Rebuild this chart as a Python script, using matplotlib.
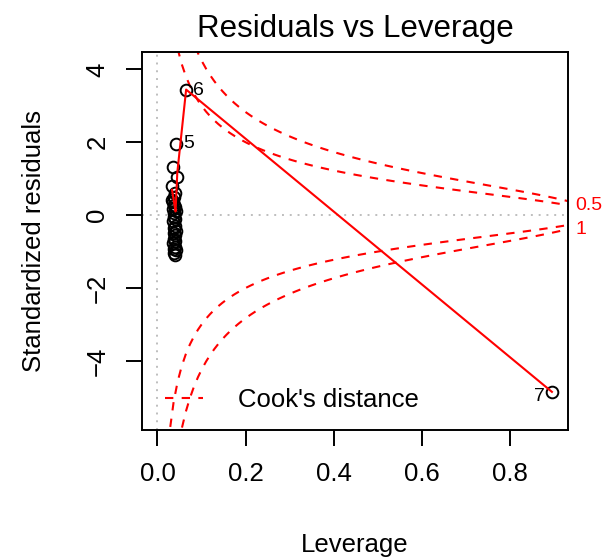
import numpy as np
import matplotlib
matplotlib.use("Agg")
import matplotlib.pyplot as plt

# Diagnostic values for each observation (index 1..n)
leverage = [0.036, 0.038, 0.034, 0.040, 0.042, 0.065, 0.895, 0.045, 0.033, 0.035,
            0.037, 0.039, 0.036, 0.041, 0.038, 0.037, 0.040, 0.036, 0.039, 0.038,
            0.041, 0.037, 0.039, 0.038, 0.040, 0.036, 0.039, 0.038, 0.041, 0.037,
            0.039]
std_resid = [1.32, 0.50, 0.80, 0.62, 1.96, 3.43, -4.85, 1.05, 0.42, 0.36,
             0.28, 0.23, 0.17, 0.10, 0.06, -0.05, -0.10, -0.16, -0.29, -0.36,
             -0.43, -0.50, -0.54, -0.65, -0.70, -0.76, -0.87, -0.92, -0.95, -1.03,
             -1.10]
obs_id = list(range(1, len(leverage) + 1))
flagged = [5, 6, 7]
n_coef = 2
cook_levels = [0.5, 1]
x_ticks = [0.0, 0.2, 0.4, 0.6, 0.8]
y_ticks = [-4, -2, 0, 2, 4]


def lowess(x, y, f=2 / 3, iters=3):
    """Port of the classic clowess smoother (Cleveland 1979)."""
    order = np.argsort(x, kind="mergesort")
    x = np.asarray(x, float)[order]
    y = np.asarray(y, float)[order]
    n = len(x)
    delta = 0.01 * (x[-1] - x[0])
    ns = max(2, min(n, int(f * n + 1e-7)))
    ys = np.zeros(n)
    rw = np.ones(n)
    xrange_ = x[-1] - x[0]

    def lowest(xs, nleft, nright, userw):
        h = max(xs - x[nleft], x[nright] - xs)
        h9, h1 = 0.999 * h, 0.001 * h
        w = np.zeros(n)
        a = 0.0
        j = nleft
        while j < n:
            r = abs(x[j] - xs)
            if r <= h9:
                w[j] = 1.0 if r <= h1 else (1 - (r / h) ** 3) ** 3
                if userw:
                    w[j] *= rw[j]
                a += w[j]
            elif x[j] > xs:
                break
            j += 1
        nrt = j - 1
        if a <= 0:
            return None
        sl = slice(nleft, nrt + 1)
        w[sl] /= a
        if h > 0:
            am = np.sum(w[sl] * x[sl])
            b = xs - am
            c = np.sum(w[sl] * (x[sl] - am) ** 2)
            if np.sqrt(c) > 0.001 * xrange_:
                b /= c
                w[sl] *= b * (x[sl] - am) + 1
        return np.sum(w[sl] * y[sl])

    it = 1
    while it <= iters + 1:
        nleft, nright = 0, ns - 1
        last = -1
        i = 0
        while True:
            if nright < n - 1:
                d1 = x[i] - x[nleft]
                d2 = x[nright + 1] - x[i]
                if d1 > d2:
                    nleft += 1
                    nright += 1
                    continue
            val = lowest(x[i], nleft, nright, it > 1)
            ys[i] = y[i] if val is None else val
            if last < i - 1:
                denom = x[i] - x[last]
                for j in range(last + 1, i):
                    alpha = (x[j] - x[last]) / denom
                    ys[j] = alpha * ys[i] + (1 - alpha) * ys[last]
            last = i
            cut = x[last] + delta
            i = last + 1
            while i < n:
                if x[i] > cut:
                    break
                if x[i] == x[last]:
                    ys[i] = ys[last]
                    last = i
                i += 1
            i = max(last + 1, i - 1)
            if last >= n - 1:
                break
        res = y - ys
        sc = np.sum(np.abs(res)) / n
        if it > iters:
            break
        ar = np.sort(np.abs(res))
        m1 = n // 2
        if n % 2 == 0:
            cmad = 3 * (ar[m1] + ar[n - m1 - 1])
        else:
            cmad = 6 * ar[m1]
        if cmad < 1e-7 * sc:
            break
        c9, c1 = 0.999 * cmad, 0.001 * cmad
        r = np.abs(res)
        rw = np.where(r <= c1, 1.0, np.where(r <= c9, (1 - (r / cmad) ** 2) ** 2, 0.0))
        it += 1
    return x, ys


plt.rcParams["font.family"] = ["Liberation Sans", "DejaVu Sans"]
plt.rcParams["axes.unicode_minus"] = True

W, H = 610, 559
fig = plt.figure(figsize=(W / 100, H / 100), dpi=100)
ax = fig.add_axes([141.7 / W, 1 - 430 / H, (567.7 - 141.7) / W, (430 - 52) / H])

lev = np.array(leverage)
rs = np.array(std_resid)

# axis limits as in base graphics: extended y range, then 4% padding
xmax = lev.max()
ax.set_xlim(-0.04 * xmax, 1.04 * xmax)
ylo, yhi = rs.min(), rs.max()
ylo, yhi = ylo - 0.08 * (yhi - ylo), yhi + 0.08 * (yhi - ylo)
pad = 0.04 * (yhi - ylo)
ax.set_ylim(ylo - pad, yhi + pad)

grey = "#BEBEBE"
ax.axhline(0, color=grey, lw=1.4, ls=(0, (1, 3)), zorder=1)
ax.axvline(0, color=grey, lw=1.4, ls=(0, (1, 3)), zorder=1)

ax.plot(lev, rs, "o", mfc="none", mec="black", ms=8.4, mew=1.4, zorder=3)

sx, sy = lowess(lev, rs)
ax.plot(sx, sy, color="red", lw=1.5, zorder=4)

# Cook's distance contours
usr_right = ax.get_xlim()[1]
hh = np.linspace(min(lev.min(), lev.max() / 100), usr_right, 101)
for crit in cook_levels:
    cl = np.sqrt(crit * n_coef * (1 - hh) / hh)
    ax.plot(hh, cl, color="red", lw=1.5, ls=(0, (4, 4)), zorder=2)
    ax.plot(hh, -cl, color="red", lw=1.5, ls=(0, (4, 4)), zorder=2)

aty = [np.sqrt(c * n_coef * (1 - usr_right) / usr_right) for c in cook_levels]
trans = ax.get_yaxis_transform()
ax.text(1.018, aty[0], str(cook_levels[0]), transform=trans, color="red",
        fontsize=14, ha="left", va="center", clip_on=False)
ax.text(1.018, -aty[1], str(cook_levels[1]), transform=trans, color="red",
        fontsize=14, ha="left", va="center", clip_on=False)

# label the flagged observations
xmid = np.mean(ax.get_xlim())
for k in flagged:
    xi, yi = lev[k - 1], rs[k - 1]
    if xi > xmid:
        ax.annotate(str(k), (xi, yi), xytext=(-5, -3), textcoords="offset points",
                    ha="right", va="center", fontsize=14)
    else:
        ax.annotate(str(k), (xi, yi), xytext=(5, 0), textcoords="offset points",
                    ha="left", va="center", fontsize=14)

ax.plot([], [], color="red", lw=1.5, ls=(0, (4, 4)), label="Cook's distance")
ax.legend(loc="lower left", frameon=False, fontsize=18.5, handlelength=1.5,
          handletextpad=1.35, borderaxespad=0, borderpad=0.9,
          bbox_to_anchor=(0, -5 / 378))

ax.set_xticks(x_ticks)
ax.set_xticklabels([f"{t:.1f}" for t in x_ticks])
ax.set_yticks(y_ticks)
ax.set_yticklabels([str(t).replace("-", "\u2212") for t in y_ticks], rotation=90,
                   va="center")
ax.tick_params(axis="both", labelsize=18.5, length=11.2, width=1.4, direction="out")
ax.tick_params(axis="x", pad=12)
ax.tick_params(axis="y", pad=12)
for s in ax.spines.values():
    s.set_linewidth(1.4)

fig.text(355 / W, 1 - 36.7 / H, "Residuals vs Leverage", ha="center", va="baseline",
         fontsize=22.5)
fig.text(354.7 / W, 1 - 551.8 / H, "Leverage", ha="center", va="baseline",
         fontsize=18.5)
fig.text(33.6 / W, 1 - 241 / H, "Standardized residuals", ha="center", va="center",
         rotation=90, fontsize=18.5)

fig.savefig("out.png", dpi=100)
